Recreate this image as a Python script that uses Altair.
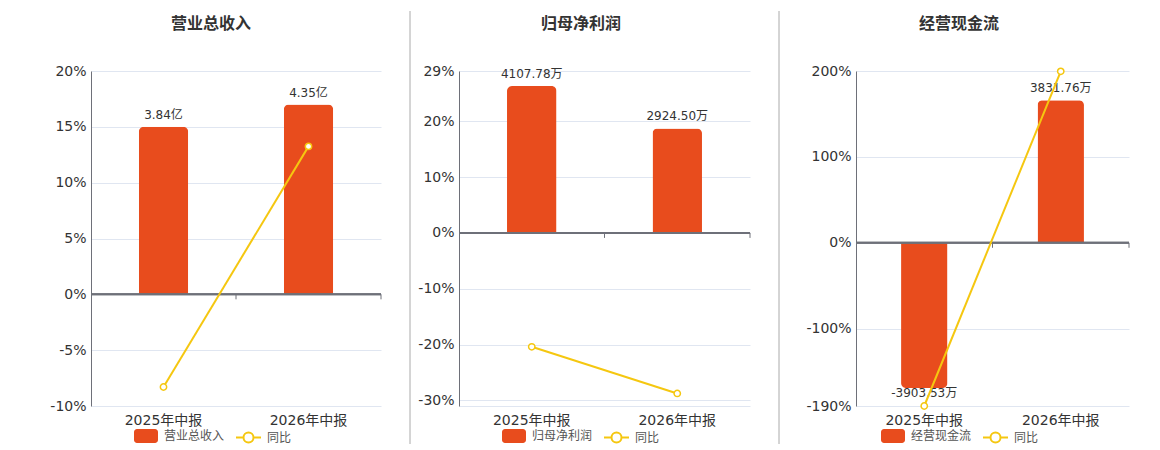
import altair as alt
import pandas as pd

# ---------------- data ----------------
categories = ['2025年中报', '2026年中报']

titles = ['营业总收入', '归母净利润', '经营现金流']
bar_values = [[3.84, 4.35], [4107.78, 2924.50], [-3903.53, 3831.76]]
bar_labels = [['3.84亿', '4.35亿'], ['4107.78万', '2924.50万'], ['-3903.53万', '3831.76万']]
yoy_values = [[-8.3, 13.25], [-20.4, -28.75], [-190.0, 199.6]]
yoy_name = '同比'

pct_domains = [[-10, 20], [-31, 29], [-190, 200]]
pct_ticks = [[-10, -5, 0, 5, 10, 15, 20], [-31, -30, -20, -10, 0, 10, 20, 29], [-190, -100, 0, 100, 200]]
bar_domains = [[-2.559, 5.118], [-4842, 4530], [-4389, 4620]]

# ---------------- styles ----------------
ORANGE = '#E84C1D'
YELLOW = '#F5C710'
GRID = '#E0E6F1'
AXIS = '#6E7079'
TEXT = '#333333'
FONT = 'DejaVu Sans, Noto Sans CJK SC'

widths = [290, 291, 273]
HEIGHT = 335
sep_x = [-82, -49, -77]
sep_color = ['#FFFFFF', '#AAAAAA', '#AAAAAA']
title_x = [120, 122, 103]
leg_bar_x = [43, 43, 25]
leg_line_x = [144, 144, 126]
LEG_Y = 353

PI, PO = 0.66, 0.33

RECT_PATH = ("M-0.75,-0.58 L0.75,-0.58 A0.25,0.25 0 0 1 1,-0.33 L1,0.33 "
             "A0.25,0.25 0 0 1 0.75,0.58 L-0.75,0.58 A0.25,0.25 0 0 1 -1,0.33 "
             "L-1,-0.33 A0.25,0.25 0 0 1 -0.75,-0.58 Z")
LINE_PATH = ("M-1,0 L-0.4,0 M0.4,0 L1,0 M-0.4,0 A0.4,0.4 0 1 0 0.4,0 "
             "A0.4,0.4 0 1 0 -0.4,0")


def panel(i):
    df = pd.DataFrame({
        'cat': categories,
        'bar': bar_values[i],
        'label': bar_labels[i],
        'pct': yoy_values[i],
        's_bar': titles[i],
        's_line': yoy_name,
    })
    step = widths[i] / len(categories)
    xsc = alt.Scale(domain=categories, paddingInner=PI, paddingOuter=PO)
    xax = alt.Axis(title=None, domain=False, ticks=False, labelAngle=0, labelFontSize=14,
                   labelColor=TEXT, labelFont=FONT, labelPadding=7, grid=False)
    x = alt.X('cat:N', scale=xsc, axis=xax, sort=categories)

    ysc = alt.Scale(domain=pct_domains[i], nice=False, zero=False)
    lo = pct_domains[i][0]
    yax = alt.Axis(title=None, values=pct_ticks[i], grid=True, gridColor=GRID, ticks=False,
                   domainColor=AXIS, domainWidth=1, labelFontSize=14, labelColor=TEXT,
                   labelFont=FONT, labelPadding=5,
                   labelExpr=f"datum.value == {lo} && {lo} != -10 && {lo} != -190 ? '' : datum.value + '%'")
    bsc = alt.Scale(domain=bar_domains[i], nice=False, zero=False)

    fill = alt.Fill('s_bar:N', scale=alt.Scale(domain=[titles[i]], range=[ORANGE]),
                    legend=alt.Legend(title=None, orient='none', legendX=leg_bar_x[i], legendY=LEG_Y,
                                      symbolType=RECT_PATH, symbolSize=576, symbolStrokeWidth=0,
                                      labelFontSize=12, labelColor='#555555', labelFont=FONT,
                                      labelOffset=6, padding=0))
    stroke = alt.Stroke('s_line:N', scale=alt.Scale(domain=[yoy_name], range=[YELLOW]),
                        legend=alt.Legend(title=None, orient='none', legendX=leg_line_x[i], legendY=LEG_Y,
                                          symbolType=LINE_PATH, symbolSize=625, symbolStrokeWidth=2,
                                          symbolFillColor='white',
                                          labelFontSize=12, labelColor='#555555', labelFont=FONT,
                                          labelOffset=5, padding=0))

    base = alt.Chart(df)
    bars_pos = base.transform_filter('datum.bar >= 0').mark_bar(
        cornerRadiusTopLeft=5, cornerRadiusTopRight=5).encode(
        x=x, y=alt.Y('bar:Q', scale=bsc, axis=None), fill=fill)
    bars_neg = base.transform_filter('datum.bar < 0').mark_bar(
        cornerRadiusBottomLeft=5, cornerRadiusBottomRight=5).encode(
        x=x, y=alt.Y('bar:Q', scale=bsc, axis=None), fill=fill)
    text_pos = base.transform_filter('datum.bar >= 0').mark_text(
        baseline='bottom', dy=-5, fontSize=12, color=TEXT, font=FONT).encode(
        x=x, y=alt.Y('bar:Q', scale=bsc, axis=None), text='label:N')
    text_neg = base.transform_filter('datum.bar < 0').mark_text(
        baseline='top', dy=0, fontSize=12, color=TEXT, font=FONT).encode(
        x=x, y=alt.Y('bar:Q', scale=bsc, axis=None), text='label:N')
    bar_layer = alt.layer(bars_pos, bars_neg, text_pos, text_neg)

    zero = base.mark_rule(color=AXIS, strokeWidth=2).encode(
        y=alt.YDatum(0, type='quantitative', scale=ysc, axis=yax))
    ticks = base.mark_rule(color=AXIS, strokeWidth=1, y2Offset=5, xOffset=PO * step).encode(
        x=alt.X('cat:N', scale=xsc, axis=xax, sort=categories, bandPosition=1),
        y=alt.YDatum(0, type='quantitative', scale=ysc, axis=yax),
        y2=alt.Y2Datum(0))
    line = base.mark_line(strokeWidth=2, point=alt.OverlayMarkDef(
        filled=False, fill='white', size=40, strokeWidth=1.5)).encode(
        x=x, y=alt.Y('pct:Q', scale=ysc, axis=yax), stroke=stroke)
    title = alt.Chart(pd.DataFrame({'t': [titles[i]]})).mark_text(
        fontSize=16, fontWeight='bold', color=TEXT, font='Noto Sans CJK SC',
        align='center', baseline='middle').encode(
        x=alt.value(title_x[i]), y=alt.value(-47), text='t:N')
    sep = alt.Chart(pd.DataFrame({'t': [0]})).mark_rule(
        color=sep_color[i], strokeWidth=1).encode(
        x=alt.value(sep_x[i]), y=alt.value(-60), y2=alt.value(373))
    pct_layer = alt.layer(zero, ticks, line, title, sep)

    return alt.layer(bar_layer, pct_layer).resolve_scale(y='independent').properties(
        width=widths[i], height=HEIGHT)


chart = alt.hconcat(panel(0), panel(1), panel(2), spacing=27).resolve_scale(
    x='independent', y='independent', fill='independent', stroke='independent'
).resolve_legend(fill='independent', stroke='independent').properties(
    padding={'left': 0, 'top': 2, 'right': 0, 'bottom': 0}
).configure(font=FONT, background='white').configure_view(stroke=None)

chart.save('out.html', embed_options={'renderer': 'svg', 'actions': False})
